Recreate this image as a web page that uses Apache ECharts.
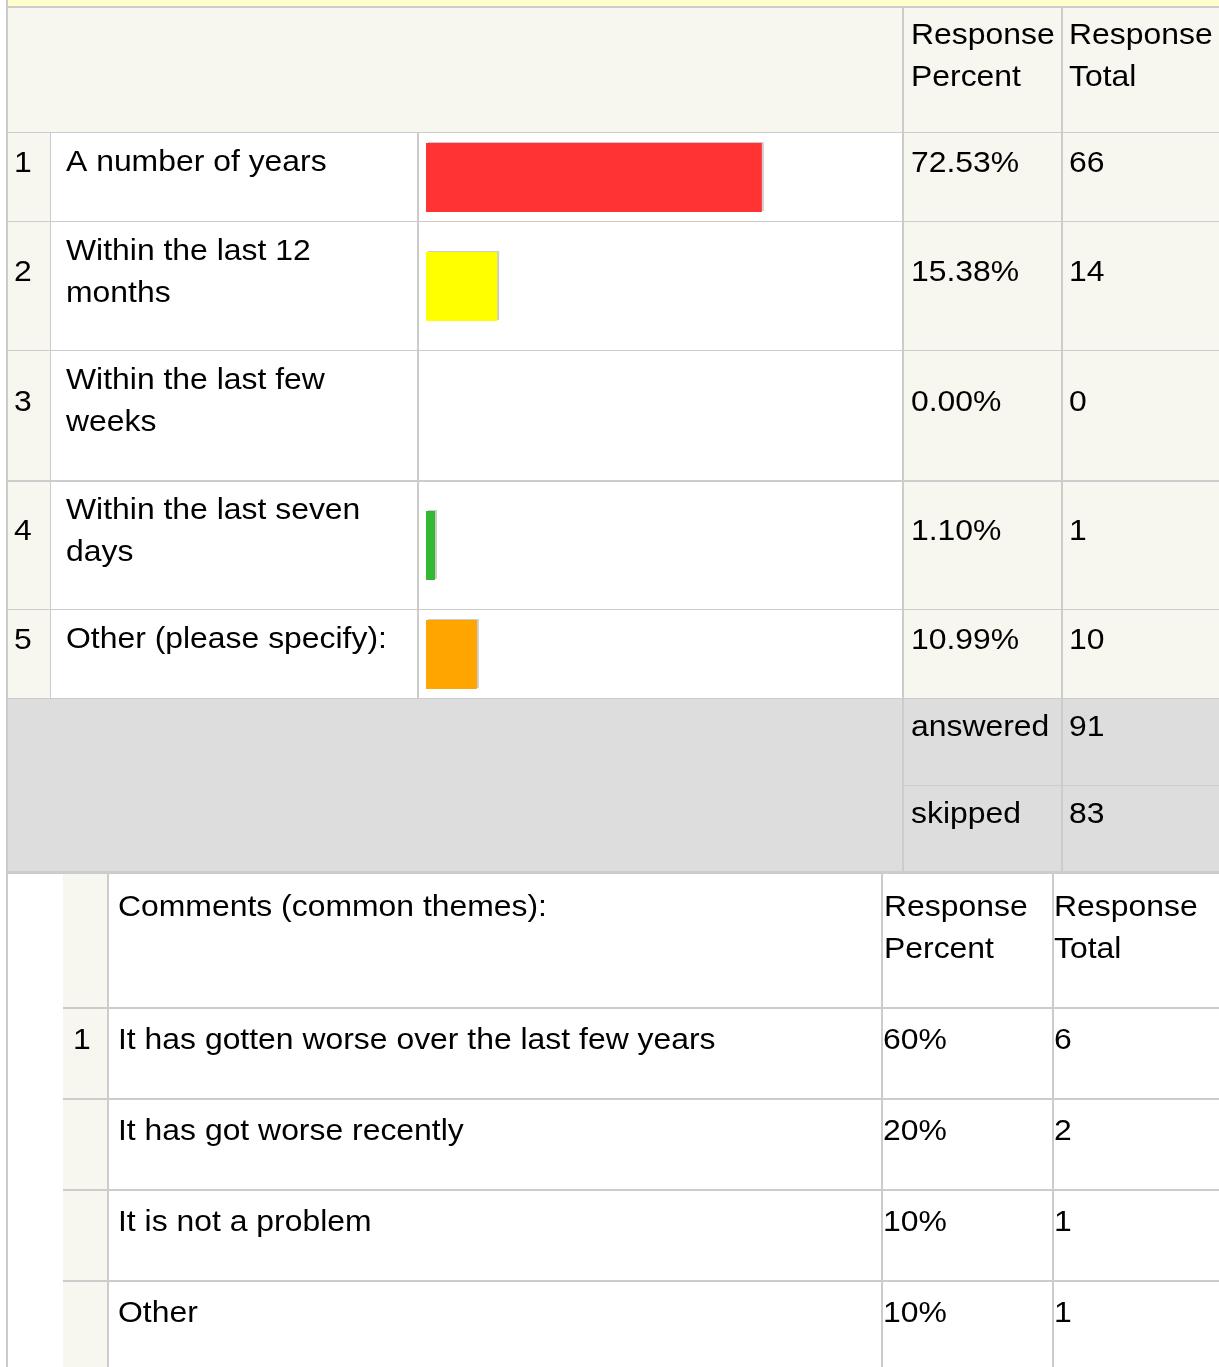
<!DOCTYPE html>
<html>
<head>
<meta charset="utf-8">
<script src="https://cdn.jsdelivr.net/npm/echarts@6/dist/echarts.min.js"></script>
<style>
  html, body { margin: 0; padding: 0; background: #fff; }
  #chart { width: 1219px; height: 1367px; }
</style>
</head>
<body>
<div id="chart"></div>
<script>
// survey answers (top table)
const answers = ['A number of years', 'Within the last 12 months', 'Within the last few weeks', 'Within the last seven days', 'Other (please specify):'];
const answerPercents = [72.53, 15.38, 0.00, 1.10, 10.99];
const answerTotals = [66, 14, 0, 1, 10];
const answeredCount = 91;
const skippedCount = 83;

// comment themes (bottom table)
const themes = ['It has gotten worse over the last few years', 'It has got worse recently', 'It is not a problem', 'Other'];
const themePercents = [60, 20, 10, 10];
const themeTotals = [6, 2, 1, 1];

const barColors = ['#ff3333', '#ffff00', '#999999', '#33b833', '#ffa500'];

// layout
const W = 1219, H = 1367;
const rowTops = [132, 221, 350, 480, 609];
const rowBottom = 698;
const themeTops = [1007, 1098, 1189, 1280];
const BORDER = '#cccccc', BEIGE = '#f7f7f0', GREY = '#dddddd';
const FONT = '29px "Liberation Sans", Arial, Helvetica, sans-serif';

const chart = echarts.init(document.getElementById('chart'));
const g = [];

function rect(x, y, w, h, fill, z) {
  g.push({ type: 'rect', z: z || 0, silent: true, shape: { x, y, width: w, height: h }, style: { fill } });
}
// text placed by its baseline; the source glyphs are a little wide, hence scaleX
function txt(x, baseline, text, width) {
  const style = { text: String(text), font: FONT, fill: '#000', lineHeight: 42, align: 'left', verticalAlign: 'top' };
  if (width) { style.width = width; style.overflow = 'break'; }
  g.push({ type: 'text', z: 10, silent: true, x, y: baseline - 29, scaleX: 1.1, style });
}

// ---- backgrounds ----
rect(8, 0, W - 8, 6, '#ffffcc');
rect(8, 8, W - 8, rowTops[0] - 8, BEIGE);
rowTops.forEach((top, i) => {
  const bottom = i < rowTops.length - 1 ? rowTops[i + 1] : rowBottom;
  rect(8, top, 42, bottom - top, BEIGE);
  rect(51, top, 852, bottom - top, '#ffffff');
  rect(904, top, W - 904, bottom - top, BEIGE);
});
rect(8, rowBottom, W - 8, 872 - rowBottom, GREY);
rect(8, 874, W - 8, H - 874, '#ffffff');
rect(63, 874, 44, H - 874, BEIGE);

// ---- borders ----
rect(6, 0, 2, H, BORDER, 1);
rect(6, 6, W - 6, 2, BORDER, 1);
rowTops.forEach((top) => rect(8, top, W - 8, top === 480 ? 2 : 1, BORDER, 1));
rect(8, rowBottom, W - 8, 1, BORDER, 1);
rect(50, rowTops[0], 1, rowBottom - rowTops[0], BORDER, 1);
rect(417, rowTops[0], 2, rowBottom - rowTops[0], BORDER, 1);
rect(902, 8, 2, 872 - 8, BORDER, 1);
rect(1061, 8, 2, 872 - 8, BORDER, 1);
rect(904, 785, W - 904, 1, BORDER, 1);
rect(8, 871, W - 8, 3, BORDER, 1);
themeTops.forEach((top) => rect(63, top, W - 63, 2, BORDER, 1));
rect(107, 874, 2, H - 874, BORDER, 1);
rect(881, 874, 2, H - 874, BORDER, 1);
rect(1052, 874, 2, H - 874, BORDER, 1);

// ---- top table text ----
txt(911, 44, 'Response'); txt(911, 86, 'Percent');
txt(1069, 44, 'Response'); txt(1069, 86, 'Total');
rowTops.forEach((top, i) => {
  const bottom = i < rowTops.length - 1 ? rowTops[i + 1] : rowBottom;
  const mid = (top + bottom) / 2 - 4.5;
  txt(14, mid, i + 1);
  txt(66, top + 39, answers[i], 310);
  txt(911, mid, answerPercents[i].toFixed(2) + '%');
  txt(1069, mid, answerTotals[i]);
});
txt(911, 736, 'answered'); txt(1069, 736, answeredCount);
txt(911, 823, 'skipped'); txt(1069, 823, skippedCount);

// ---- bottom table text ----
txt(118, 916, 'Comments (common themes):');
txt(884, 916, 'Response'); txt(884, 958, 'Percent');
txt(1054, 916, 'Response'); txt(1054, 958, 'Total');
themeTops.forEach((top, i) => {
  if (i === 0) txt(73, top + 42, 1);
  txt(118, top + 42, themes[i]);
  txt(883, top + 42, themePercents[i] + '%');
  txt(1054, top + 42, themeTotals[i]);
});

// ---- bars: one grid per answer row, shared 0-100% scale ----
const grids = [], xAxes = [], yAxes = [], series = [];
rowTops.forEach((top, i) => {
  const bottom = i < rowTops.length - 1 ? rowTops[i + 1] : rowBottom;
  grids.push({ left: 426, top: top + 1, width: 463, height: bottom - top });
  xAxes.push({ type: 'value', gridIndex: i, min: 0, max: 100, show: false });
  yAxes.push({ type: 'category', gridIndex: i, data: [answers[i]], show: false });
  series.push({
    type: 'bar',
    xAxisIndex: i,
    yAxisIndex: i,
    z: 5,
    silent: true,
    barWidth: 69,
    barMinHeight: 9,
    data: answerPercents[i] > 0 ? [answerPercents[i]] : [],
    itemStyle: {
      color: barColors[i],
      shadowColor: '#cccccc',
      shadowOffsetX: 2,
      shadowOffsetY: -1,
      shadowBlur: 0
    }
  });
});

chart.setOption({
  animation: false,
  grid: grids,
  xAxis: xAxes,
  yAxis: yAxes,
  series,
  graphic: { elements: g }
});
</script>
</body>
</html>
